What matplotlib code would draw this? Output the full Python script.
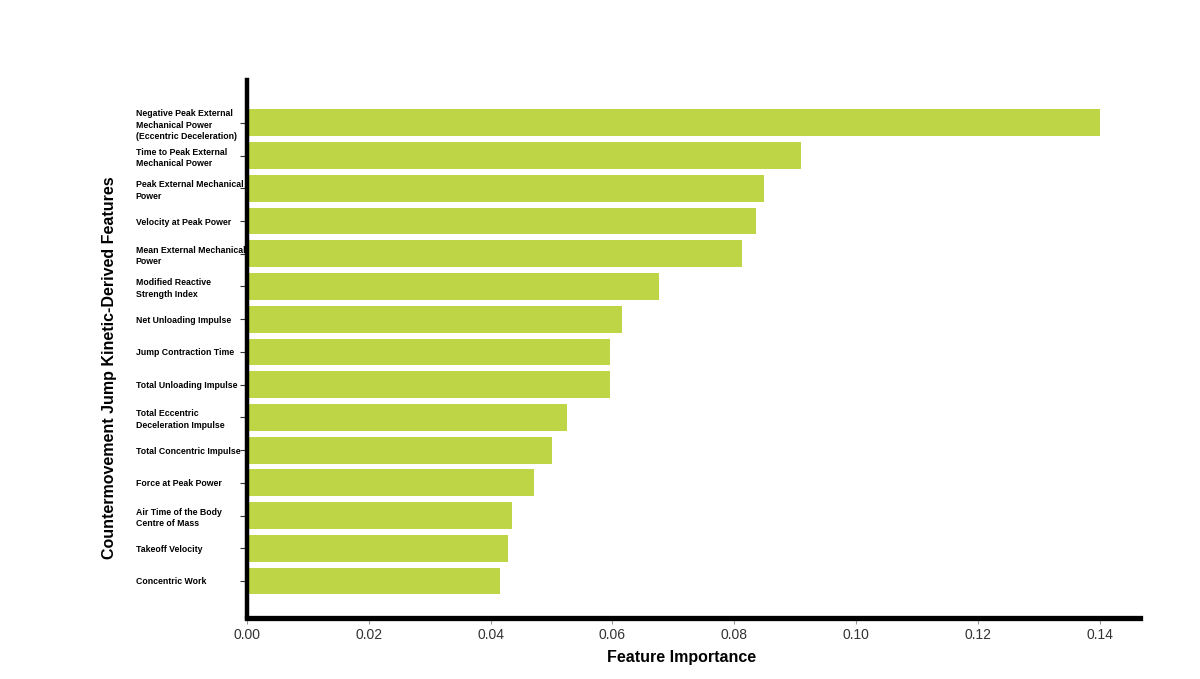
import matplotlib.pyplot as plt

# datos de la grafica
features = [
    "Negative Peak External\nMechanical Power\n(Eccentric Deceleration)",
    "Time to Peak External\nMechanical Power",
    "Peak External Mechanical\nPower",
    "Velocity at Peak Power",
    "Mean External Mechanical\nPower",
    "Modified Reactive\nStrength Index",
    "Net Unloading Impulse",
    "Jump Contraction Time",
    "Total Unloading Impulse",
    "Total Eccentric\nDeceleration Impulse",
    "Total Concentric Impulse",
    "Force at Peak Power",
    "Air Time of the Body\nCentre of Mass",
    "Takeoff Velocity",
    "Concentric Work",
]
importance = [0.1400, 0.0910, 0.0849, 0.0836, 0.0812, 0.0677, 0.0615,
              0.0596, 0.0596, 0.0526, 0.0501, 0.0472, 0.0435, 0.0429, 0.0416]
xticks = [0.00, 0.02, 0.04, 0.06, 0.08, 0.10, 0.12, 0.14]

plt.rcParams['font.family'] = ['Liberation Sans', 'DejaVu Sans']

fig = plt.figure(figsize=(12, 6.79), dpi=100)
ax = fig.add_axes([0.2058, 0.0899, 0.7442, 0.7923])

pos = list(range(len(features)))
ax.barh(pos, importance, height=0.82, color="#bed645")

ax.set_ylim(len(features) - 1 + 1.13, -1.31)
ax.set_xlim(0, 0.1466)

ax.set_yticks(pos)
ax.set_yticklabels(features, fontsize=6.3, fontweight="bold", ha="left",
                   linespacing=1.35)
ax.tick_params(axis="y", length=5, width=0.8, color="#333333", pad=75)

ax.set_xticks(xticks)
ax.set_xticklabels([f"{v:.2f}" for v in xticks], fontsize=10, color="#333333")
ax.tick_params(axis="x", length=4, width=0.8, color="#999999", pad=3)

for s in ["top", "right"]:
    ax.spines[s].set_visible(False)
ax.spines["left"].set_linewidth(3.2)
ax.spines["bottom"].set_linewidth(3.8)

ax.set_xlabel("Feature Importance", fontsize=11.5, fontweight="bold", labelpad=6)
ax.xaxis.set_label_coords(0.487, -0.06)
ax.set_ylabel("Countermovement Jump Kinetic-Derived Features",
              fontsize=11.5, fontweight="bold")
ax.yaxis.set_label_coords(-0.146, 0.466)

plt.savefig("out.png")
plt.close()
